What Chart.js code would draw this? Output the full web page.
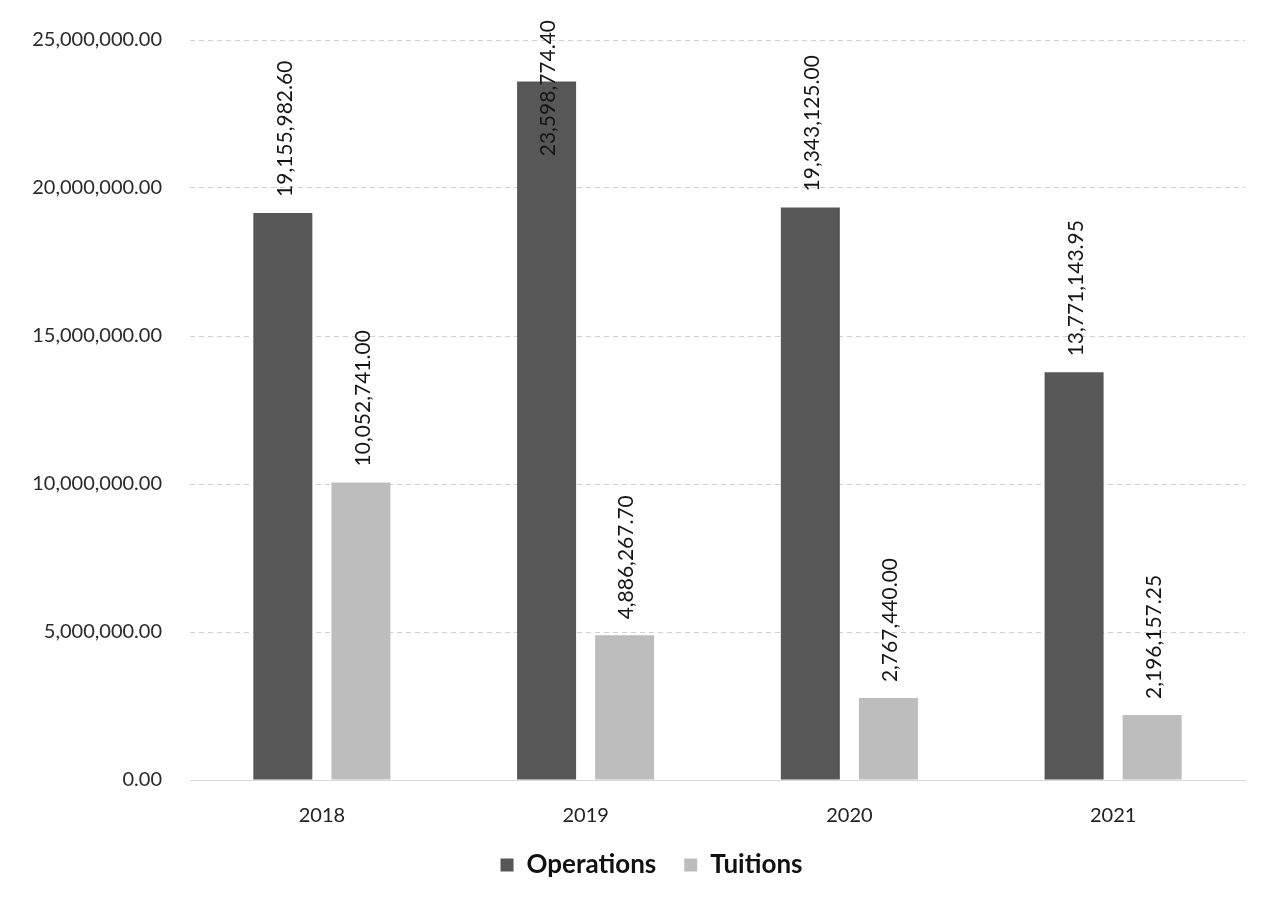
<!DOCTYPE html>
<html>
<head>
<meta charset="utf-8">
<script src="https://cdn.jsdelivr.net/npm/chart.js@4.4.1/dist/chart.umd.min.js"></script>
<style>
  html, body { margin: 0; padding: 0; background: #ffffff; }
  #wrap { width: 1272px; height: 905px; position: relative; }
</style>
</head>
<body>
<div id="wrap"><canvas id="chart" width="1272" height="905"></canvas></div>
<script>
const years = ['2018', '2019', '2020', '2021'];
const operations = [19155982.60, 23598774.40, 19343125.00, 13771143.95];
const tuitions = [10052741.00, 4886267.70, 2767440.00, 2196157.25];
const yTicks = [0, 5000000, 10000000, 15000000, 20000000, 25000000];

const FONT = 'Lato, "Open Sans", sans-serif';

function money(v) {
  return v.toLocaleString('en-US', { minimumFractionDigits: 2, maximumFractionDigits: 2 });
}

// Vertical value labels above each bar, kept inside the top of the canvas
const barValueLabels = {
  id: 'barValueLabels',
  afterDatasetsDraw(chart) {
    const ctx = chart.ctx;
    ctx.save();
    ctx.font = '21px ' + FONT;
    ctx.fillStyle = '#151515';
    ctx.textBaseline = 'middle';
    ctx.textAlign = 'left';
    chart.data.datasets.forEach((ds, di) => {
      const meta = chart.getDatasetMeta(di);
      meta.data.forEach((bar, i) => {
        const text = money(ds.data[i]);
        const w = ctx.measureText(text).width;
        let start = bar.y - 16;
        const minTop = 20;
        if (start - w < minTop) start = minTop + w;
        ctx.save();
        ctx.translate(bar.x + 2, start);
        ctx.rotate(-Math.PI / 2);
        ctx.fillText(text, 0, 0);
        ctx.restore();
      });
    });
    ctx.restore();
  }
};

// Nudge the legend row a little to the right of the canvas centre
const legendShift = {
  id: 'legendShift',
  afterLayout(chart) {
    if (chart.legend) {
      chart.legend.left += 29;
      chart.legend.right += 29;
    }
  }
};

new Chart(document.getElementById('chart'), {
  type: 'bar',
  data: {
    labels: years,
    datasets: [
      {
        label: 'Operations',
        data: operations,
        backgroundColor: '#575757',
        borderWidth: 0,
        categoryPercentage: 0.592,
        barPercentage: 0.756
      },
      {
        label: 'Tuitions',
        data: tuitions,
        backgroundColor: '#bdbdbd',
        borderWidth: 0,
        categoryPercentage: 0.592,
        barPercentage: 0.756
      }
    ]
  },
  options: {
    responsive: false,
    animation: false,
    layout: { padding: { top: 30, right: 27, bottom: 17, left: 0 } },
    plugins: {
      legend: {
        position: 'bottom',
        labels: {
          boxWidth: 13,
          boxHeight: 13,
          padding: 28,
          color: '#111111',
          font: { family: FONT, size: 26, weight: 'bold' }
        }
      },
      tooltip: { enabled: false }
    },
    scales: {
      x: {
        grid: { display: false },
        border: { display: true, color: '#d8d8d8' },
        ticks: {
          color: '#222222',
          padding: 16,
          font: { family: FONT, size: 20 }
        },
        afterFit(scale) { scale.height = 44; }
      },
      y: {
        min: 0,
        max: 25000000,
        afterBuildTicks(scale) { scale.ticks = yTicks.map(v => ({ value: v })); },
        grid: {
          color: '#d0d0d0',
          lineWidth: 1,
          drawTicks: false
        },
        border: { display: false, dash: [5, 4] },
        ticks: {
          color: '#2a2a2a',
          padding: 28,
          font: { family: FONT, size: 20 },
          callback: v => money(v)
        },
        afterFit(scale) { scale.width = 190; }
      }
    }
  },
  plugins: [barValueLabels, legendShift]
});
</script>
</body>
</html>
